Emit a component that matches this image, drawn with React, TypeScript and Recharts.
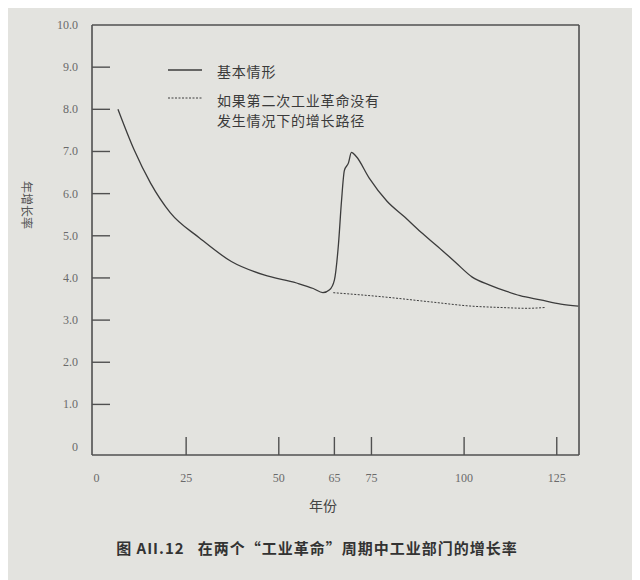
import React from 'react';
import { LineChart, Line, XAxis, YAxis, ReferenceLine, Legend } from 'recharts';

// ---- data ----
const baseYears = [6.6, 10.9, 15.4, 20.7, 28.6, 37.2, 46, 54.8, 59.3, 61.9, 63.7, 65.0, 66.1, 66.9, 67.7, 68.8, 69.6, 70.9, 74.4, 79.2, 83.9, 88.3, 93.1, 97.8, 102.2, 106.9, 111.5, 115.1, 120.6, 126.1, 130.8];
const baseRates = [8.0, 7.05, 6.25, 5.55, 4.95, 4.39, 4.07, 3.88, 3.75, 3.65, 3.72, 3.95, 4.8, 5.8, 6.55, 6.73, 6.98, 6.88, 6.37, 5.82, 5.45, 5.09, 4.73, 4.36, 4.02, 3.83, 3.68, 3.58, 3.48, 3.38, 3.33];
const altYears = [64.7, 78.3, 91.1, 102.2, 109.6, 117, 122];
const altRates = [3.65, 3.55, 3.43, 3.33, 3.3, 3.28, 3.3];
const xTicks = [0, 25, 50, 65, 75, 100, 125];
const yTicks = [0, 1, 2, 3, 4, 5, 6, 7, 8, 9, 10];
const yTickLabels = ['0', '1.0', '2.0', '3.0', '4.0', '5.0', '6.0', '7.0', '8.0', '9.0', '10.0'];
const seriesNames = ['基本情形', '如果第二次工业革命没有发生情况下的增长路径'];
const legendLines = [['基本情形'], ['如果第二次工业革命没有', '发生情况下的增长路径']];
const X_MIN = -0.4;
const X_MAX = 131;
const Y_MIN = -0.2;
const Y_MAX = 10;

const baseData = baseYears.map((x, i) => ({ x, y: baseRates[i] }));
const altData = altYears.map((x, i) => ({ x, y: altRates[i] }));

// ---- layout ----
const W = 640;
const H = 580;
const PLOT_LEFT = 92;
const PLOT_TOP = 25;
const PLOT_RIGHT = 579;
const PLOT_BOTTOM = 455;
const Y_AXIS_W = 50;
const X_AXIS_H = 30;
const TICK_LEN = 18;
const INK = '#3c3c3c';
const AXIS_INK = '#505050';
const LABEL_INK = '#6a6a6a';
const BG = '#e3e3df';
const SERIF = '"Liberation Serif", "DejaVu Serif", serif';
const CJK = '"Noto Sans CJK SC", "Noto Sans", sans-serif';

const YTick = (props: any) => {
  const { y, payload } = props;
  const idx = yTicks.indexOf(payload.value);
  const label = idx >= 0 ? yTickLabels[idx] : String(payload.value);
  const drawLine = payload.value > 0 && payload.value < 10;
  return (
    <g>
      {drawLine && (
        <line x1={PLOT_LEFT} x2={PLOT_LEFT + TICK_LEN} y1={y} y2={y} stroke={AXIS_INK} strokeWidth={1.4} />
      )}
      <text x={PLOT_LEFT - 14} y={y} dy={4} textAnchor="end" fontFamily={SERIF} fontSize={12} fill={LABEL_INK}>
        {label}
      </text>
    </g>
  );
};

const XTick = (props: any) => {
  const { x, payload } = props;
  const drawLine = payload.value > 0;
  return (
    <g>
      {drawLine && (
        <line x1={x} x2={x} y1={PLOT_BOTTOM} y2={PLOT_BOTTOM - TICK_LEN} stroke={AXIS_INK} strokeWidth={1.4} />
      )}
      <text x={payload.value === 0 ? x + 3 : x} y={PLOT_BOTTOM + 27} textAnchor="middle" fontFamily={SERIF} fontSize={12} fill={LABEL_INK}>
        {payload.value}
      </text>
    </g>
  );
};

const LegendContent = () => (
  <div style={{ position: 'relative', width: 260, height: 80, fontFamily: CJK, fontSize: 14, color: '#3a3a3a', letterSpacing: 0.8 }}>
    <svg style={{ position: 'absolute', left: 8, top: 0 }} width={34} height={20}>
      <line x1={0} x2={34} y1={10} y2={10} stroke={INK} strokeWidth={1.3} />
    </svg>
    <div style={{ position: 'absolute', left: 57, top: 0, lineHeight: '22px', whiteSpace: 'nowrap' }}>{legendLines[0][0]}</div>
    <svg style={{ position: 'absolute', left: 8, top: 28 }} width={34} height={20}>
      <line x1={0} x2={34} y1={10} y2={10} stroke={INK} strokeWidth={1} strokeDasharray="2 1.5" />
    </svg>
    <div style={{ position: 'absolute', left: 57, top: 30, lineHeight: '20px', whiteSpace: 'nowrap' }}>
      {legendLines[1][0]}
      <br />
      {legendLines[1][1]}
    </div>
  </div>
);

export default function App() {
  return (
    <div style={{ position: 'relative', width: W, height: H, margin: '-8px 0 0 -8px', background: BG, overflow: 'hidden' }}>
      <LineChart
        width={W}
        height={H}
        margin={{ top: PLOT_TOP, right: W - PLOT_RIGHT, left: PLOT_LEFT - Y_AXIS_W, bottom: H - PLOT_BOTTOM - X_AXIS_H }}
      >
        <XAxis
          dataKey="x"
          type="number"
          domain={[X_MIN, X_MAX]}
          ticks={xTicks}
          allowDataOverflow
          height={X_AXIS_H}
          tickLine={false}
          axisLine={{ stroke: AXIS_INK, strokeWidth: 1.6 }}
          tick={<XTick />}
        />
        <YAxis
          dataKey="y"
          type="number"
          domain={[Y_MIN, Y_MAX]}
          ticks={yTicks}
          allowDataOverflow
          width={Y_AXIS_W}
          tickLine={false}
          axisLine={{ stroke: AXIS_INK, strokeWidth: 1.6 }}
          tick={<YTick />}
          interval={0}
        />
        <ReferenceLine y={Y_MAX} stroke={AXIS_INK} strokeWidth={1.6} />
        <ReferenceLine x={X_MAX} stroke={AXIS_INK} strokeWidth={1.6} />
        <Legend
          layout="vertical"
          align="center"
          verticalAlign="middle"
          content={<LegendContent />}
          wrapperStyle={{ left: 160, top: 60, width: 260, height: 80 }}
        />
        <Line
          data={baseData}
          dataKey="y"
          name={seriesNames[0]}
          type="monotone"
          stroke={INK}
          strokeWidth={1.3}
          dot={false}
          activeDot={false}
          isAnimationActive={false}
        />
        <Line
          data={altData}
          dataKey="y"
          name={seriesNames[1]}
          type="monotone"
          stroke={INK}
          strokeWidth={1}
          strokeDasharray="2 1.5"
          dot={false}
          activeDot={false}
          isAnimationActive={false}
        />
      </LineChart>
      <div style={{ position: 'absolute', left: 27, top: 205, transform: 'translate(-50%, -50%) rotate(90deg)', fontFamily: CJK, fontSize: 12, color: '#555', whiteSpace: 'nowrap' }}>
        年增长率
      </div>
      <div style={{ position: 'absolute', left: 323, top: 505, transform: 'translate(-50%, -50%)', fontFamily: CJK, fontSize: 14, color: '#444', whiteSpace: 'nowrap' }}>
        年份
      </div>
      <div style={{ position: 'absolute', left: 317, top: 547, transform: 'translate(-50%, -50%)', fontFamily: CJK, fontSize: 15, fontWeight: 700, color: '#333', whiteSpace: 'pre', letterSpacing: 1 }}>
        {'图 AII.12   在两个“工业革命”周期中工业部门的增长率'}
      </div>
    </div>
  );
}
